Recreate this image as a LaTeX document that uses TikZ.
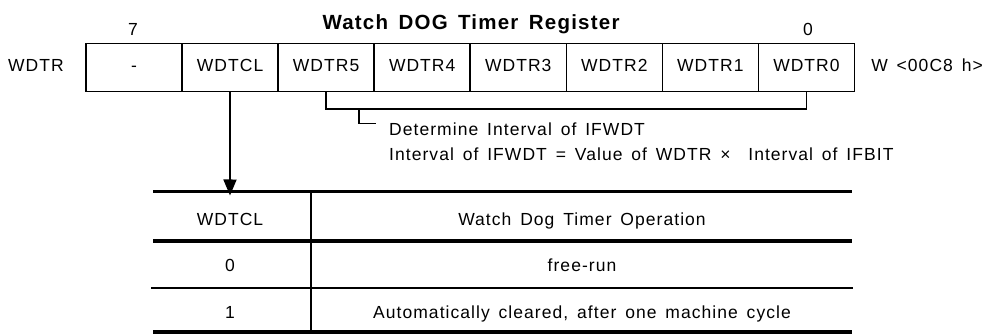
\documentclass[tikz,border=0pt]{standalone}
\usepackage{fontspec}
\setmainfont{Liberation Sans}[LetterSpace=6,WordSpace=1.5]
\usetikzlibrary{arrows.meta}

\begin{document}
\begin{tikzpicture}[x=1pt,y=-1pt,
    lbl/.style={font=\fontsize{17.5}{21}\selectfont,inner sep=0pt,anchor=base},
    bitcell/.style={draw,line width=1.6pt,minimum width=96.06pt,minimum height=48pt,
      inner sep=0pt,text height=12.5pt,text depth=4pt,font=\fontsize{17.5}{21}\selectfont},
    thickrule/.style={line width=3.8pt},
    thinrule/.style={line width=1.4pt}]
  \useasboundingbox (0,0) rectangle (987,336);
  % register
  \node[lbl,font=\bfseries\fontsize{20.5}{24}\selectfont] (title) at (471,29.3) {Watch DOG Timer Register};
  \foreach \name/\bit [count=\i from 0] in {-/7,WDTCL/6,WDTR5/5,WDTR4/4,WDTR3/3,WDTR2/2,WDTR1/1,WDTR0/0}
    \node[bitcell] (bit\bit) at ({134.03+96.06*\i},67.4) {\name};
  \node[lbl] (msb) at (133,35.9) {7};
  \node[lbl] (lsb) at (808,35.9) {0};
  \node[lbl] (reg) at (36,71.6) {WDTR};
  \node[lbl,anchor=base east] (addr) at (983,71.6) {W <00C8 h>};
  % interval bits
  \draw[thinrule] (bit5.south) -- ++(0,17) -| (bit0.south);
  \coordinate (brk) at (359,108.3);
  \coordinate (hook) at (376,123.3);
  \draw[thinrule] (brk) |- (hook);
  \node[lbl,anchor=base west] (note) at (389,136) {Determine Interval of IFWDT};
  \node[lbl,anchor=base west] (formula) at (389,161)
    {Interval of IFWDT = Value of WDTR ×\ \ Interval of IFBIT};
  % table
  \coordinate (tabtop) at (230,191.5);
  \draw[line width=1.8pt,-{Triangle[length=16pt,width=13pt]}] (bit6.south) -- ([yshift=-4pt]tabtop);
  \draw[thickrule] (153,191.5) -- (852,191.5);
  \draw[thickrule] (153,241) -- (852,241);
  \draw[thinrule] (151,288) -- (853,288);
  \draw[thickrule] (153,332) -- (852,332);
  \draw[thinrule] (311,191.5) -- (311,332);
  \node[lbl] (hdbit) at (230,225.2) {WDTCL};
  \node[lbl] (hdop) at (582,225.2) {Watch Dog Timer Operation};
  \node[lbl] (zero) at (230,271.2) {0};
  \node[lbl] (freerun) at (582,271.2) {free-run};
  \node[lbl] (one) at (230,318.3) {1};
  \node[lbl] (autoclr) at (582,318.3) {Automatically cleared, after one machine cycle};
\end{tikzpicture}
\end{document}
